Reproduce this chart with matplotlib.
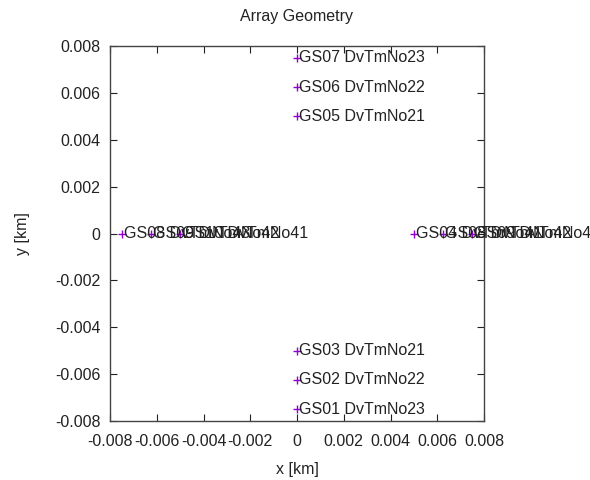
import matplotlib
matplotlib.use("Agg")
import matplotlib.pyplot as plt

# Data
x_vals = [0.0, 0.0, 0.0, 0.0, 0.0, 0.0,
          0.005, 0.00625, 0.0075,
          -0.0075, -0.00625, -0.005]
y_vals = [-0.0075, -0.00625, -0.005, 0.005, 0.00625, 0.0075,
          0.0, 0.0, 0.0,
          0.0, 0.0, 0.0]
names = ["GS01 DvTmNo23", "GS02 DvTmNo22", "GS03 DvTmNo21",
         "GS05 DvTmNo21", "GS06 DvTmNo22", "GS07 DvTmNo23",
         "GS04 DvTmNo41", "GS08 DvTmNo42", "GS09 DvTmNo43",
         "GS08 DvTmNo43", "GS09 DvTmNo42", "GS10 DvTmNo41"]
ticks = [-0.008, -0.006, -0.004, -0.002, 0, 0.002, 0.004, 0.006, 0.008]
tick_labels = ["-0.008", "-0.006", "-0.004", "-0.002", "0", "0.002", "0.004", "0.006", "0.008"]

plt.rcParams['font.family'] = ['Liberation Sans', 'DejaVu Sans']
fs = 11.5

fig = plt.figure(figsize=(5.9, 4.8), dpi=100)
ax = fig.add_axes([110/590, 1-421/480, (484-110)/590, (421-46)/480])
ax.plot(x_vals, y_vals, linestyle='none', marker='+', color='#9400D3',
        markersize=5.5, markeredgewidth=1.0, zorder=3)
for xv, yv, n in zip(x_vals, y_vals, names):
    ax.annotate(n, (xv, yv), xytext=(1.5, 0), textcoords='offset points',
                ha='left', va='center', fontsize=fs, color='#222222',
                annotation_clip=False, zorder=4)

ax.set_xlim(-0.008, 0.008)
ax.set_ylim(-0.008, 0.008)
ax.set_xticks(ticks)
ax.set_xticklabels(tick_labels)
ax.set_yticks(ticks)
ax.set_yticklabels(tick_labels)
ax.tick_params(direction='in', length=5, width=0.8, top=True, right=True,
               labelsize=fs, colors='#222222', pad=7)
ax.tick_params(axis='x', pad=9)
for s in ax.spines.values():
    s.set_color('#444444')
    s.set_linewidth(1.0)
ax.set_xlabel('x [km]', fontsize=fs, color='#222222', labelpad=10)
ax.set_ylabel('y [km]', fontsize=fs, color='#222222', labelpad=18)
ax.set_title('Array Geometry', fontsize=fs, color='#222222', pad=18)

fig.savefig('out.png', dpi=100)
